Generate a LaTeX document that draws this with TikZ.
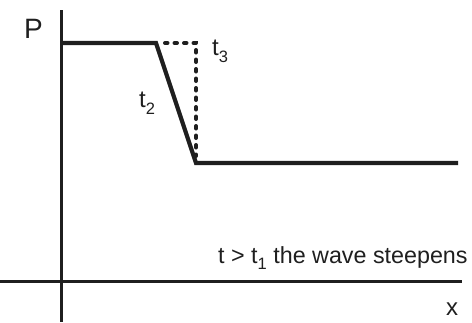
\documentclass[tikz,border=0pt]{standalone}
\usepackage{fontspec}
\setmainfont{Liberation Sans}
\newcommand{\mysub}[1]{\raisebox{-0.3em}{\fontsize{16.5}{16.5}\selectfont #1}}
\begin{document}
\begin{tikzpicture}[x=1pt,y=-1pt,
  axis/.style={line width=3pt,color=black!88},
  curve/.style={line width=4.2pt,color=black!88,line join=miter},
  dots/.style={line width=4pt,color=black!88,line cap=round,dash pattern=on 2.5pt off 7pt},
  lbl/.style={inner sep=0pt,text=black!88,font=\fontsize{24}{24}\selectfont}]
\useasboundingbox (0,0) rectangle (472,322);
% axes
\coordinate (ytop) at (61,10);
\coordinate (ybot) at (61,322);
\coordinate (xl) at (0,281);
\coordinate (xr) at (462,281);
\draw[axis] (ytop) -- (ybot);
\draw[axis] (xl) -- (xr);
% curve
\coordinate (a) at (61,43);
\coordinate (b) at (156,43);
\coordinate (c) at (196,163);
\coordinate (d) at (458,163);
\coordinate (b2) at (165,43);
\coordinate (e) at (196,43);
\coordinate (f) at (196,156);
\draw[curve] (a) -- (b) -- (c) -- (d);
\draw[dots] (b2) -- (e) -- (f);
% labels
\node[lbl,anchor=base west,font=\fontsize{28}{28}\selectfont] (P) at (24,38) {P};
\node[lbl,anchor=base west] (t3) at (212,55) {t\mysub{3}};
\node[lbl,anchor=base west] (t2) at (139,107) {t\mysub{2}};
\node[lbl,anchor=base west,font=\fontsize{23.3}{23.3}\selectfont] (cap) at (218,263) {t > t\mysub{1} the wave steepens};
\node[lbl,anchor=base west] (x) at (446,315) {x};
\end{tikzpicture}
\end{document}
